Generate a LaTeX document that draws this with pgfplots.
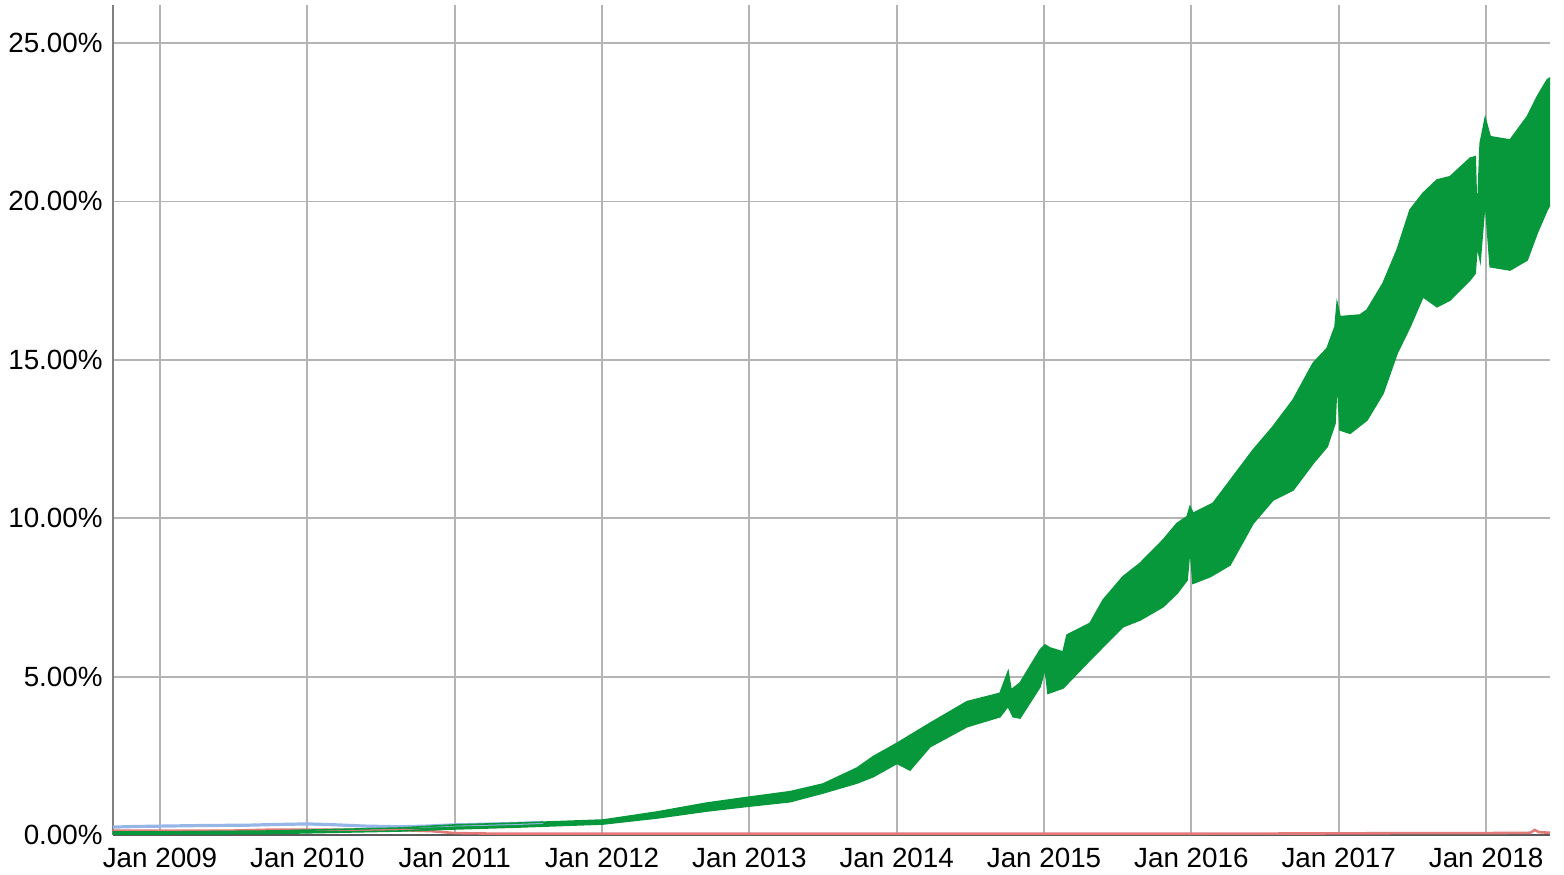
\documentclass[border=0pt]{standalone}
\usepackage{pgfplots}
\pgfplotsset{compat=1.18}
\usepgfplotslibrary{fillbetween}
\usepackage{fontspec}
\setmainfont{Liberation Sans}
\definecolor{gr}{RGB}{6,152,58}
\definecolor{bl}{RGB}{150,182,232}
\definecolor{rd}{RGB}{226,122,122}
\definecolor{gridc}{RGB}{180,180,180}
\begin{document}
\begin{tikzpicture}
\begin{axis}[
  scale only axis, width=718.5pt, height=415pt,
  xmin=2008.681, xmax=2018.434, ymin=0, ymax=26.2,
  axis x line=bottom, axis y line=left,
  x axis line style={-, draw=black!65, line width=1pt},
  y axis line style={-, draw=black!50, line width=1pt},
  xtick={2009,2010,2011,2012,2013,2014,2015,2016,2017,2018},
  xticklabels={Jan 2009,Jan 2010,Jan 2011,Jan 2012,Jan 2013,Jan 2014,Jan 2015,Jan 2016,Jan 2017,Jan 2018},
  ytick={0,5,10,15,20,25},
  yticklabels={0.00\%,5.00\%,10.00\%,15.00\%,20.00\%,25.00\%},
  major tick length=0pt,
  grid=major,
  major grid style={draw=gridc, line width=0.9pt},
  tick label style={font=\fontsize{13.9}{16}\selectfont, text=black},
  yticklabel style={inner sep=0pt, xshift=-5pt},
  xticklabel style={inner sep=0pt, yshift=-6.5pt},
]
% blue series (early period)
\addplot[bl, line width=1.6pt] coordinates {
(2008.681,0.25) (2008.85,0.27) (2009.0,0.28) (2009.3,0.30) (2009.6,0.31)
(2009.77,0.33) (2010.0,0.35) (2010.2,0.32) (2010.4,0.28) (2010.63,0.26)
(2010.8,0.28) (2011.0,0.32) (2011.2,0.34) (2011.44,0.37) (2011.6,0.40)
};
% red series
\addplot[rd, line width=1.3pt] coordinates {
(2008.681,0.14) (2009.0,0.14) (2009.5,0.14) (2009.77,0.17) (2010.2,0.17)
(2010.6,0.16) (2010.85,0.12) (2011.0,0.06) (2011.3,0.04) (2012.0,0.04)
(2013.0,0.04) (2014.0,0.04) (2015.0,0.04) (2016.0,0.04) (2017.0,0.05)
(2017.5,0.06) (2018.0,0.06) (2018.3,0.07) (2018.33,0.16) (2018.36,0.09)
(2018.434,0.07)
};
% green upper envelope
\addplot[name path=U, gr, line width=0.8pt] coordinates {
(2008.681,0.095) (2009.0,0.095) (2009.747,0.126) (2010.629,0.221) (2010.989,0.316)
(2011.444,0.379) (2012.007,0.473) (2012.373,0.726) (2012.713,1.010) (2013.005,1.199)
(2013.276,1.367) (2013.500,1.610) (2013.731,2.115) (2013.840,2.472) (2014.002,2.895)
(2014.226,3.526) (2014.477,4.208) (2014.701,4.473) (2014.735,4.893) (2014.756,5.155)
(2014.776,4.577) (2014.837,4.798) (2014.973,5.840) (2015.007,5.997) (2015.041,5.903)
(2015.129,5.777) (2015.156,6.313) (2015.312,6.682) (2015.401,7.418) (2015.536,8.154)
(2015.652,8.577) (2015.808,9.312) (2015.903,9.839) (2015.971,10.047) (2015.991,10.363)
(2016.011,10.155) (2016.147,10.470) (2016.283,11.310) (2016.419,12.153) (2016.554,12.888)
(2016.690,13.731) (2016.826,14.889) (2016.921,15.363) (2016.975,16.045) (2016.989,16.783)
(2017.009,16.361) (2017.145,16.414) (2017.192,16.572) (2017.301,17.415) (2017.396,18.466)
(2017.484,19.729) (2017.572,20.256) (2017.667,20.676) (2017.756,20.780) (2017.891,21.361)
(2017.926,21.411) (2017.939,19.255) (2017.960,21.834) (2017.994,22.623) (2018.028,22.042)
(2018.163,21.938) (2018.279,22.674) (2018.347,23.305) (2018.414,23.832) (2018.434,23.90)
};
% green lower envelope
\addplot[name path=L, gr, line width=0.8pt] coordinates {
(2008.681,0.032) (2009.0,0.032) (2009.747,0.047) (2010.629,0.126) (2010.989,0.189)
(2011.444,0.253) (2012.007,0.347) (2012.373,0.537) (2012.713,0.758) (2013.005,0.915)
(2013.276,1.051) (2013.500,1.326) (2013.731,1.641) (2013.840,1.840) (2014.002,2.263)
(2014.090,2.050) (2014.226,2.787) (2014.477,3.419) (2014.701,3.734) (2014.756,4.070)
(2014.790,3.734) (2014.837,3.693) (2014.973,4.681) (2015.007,5.270) (2015.027,4.473)
(2015.129,4.640) (2015.312,5.524) (2015.401,5.944) (2015.536,6.575) (2015.652,6.787)
(2015.808,7.206) (2015.903,7.630) (2015.971,8.049) (2015.991,9.100) (2016.011,7.945)
(2016.127,8.154) (2016.262,8.523) (2016.419,9.839) (2016.554,10.575) (2016.690,10.890)
(2016.826,11.733) (2016.921,12.257) (2016.975,12.996) (2016.989,14.467) (2017.009,12.784)
(2017.077,12.680) (2017.192,13.100) (2017.301,13.943) (2017.396,15.205) (2017.484,16.045)
(2017.572,16.992) (2017.667,16.676) (2017.756,16.888) (2017.891,17.519) (2017.926,17.731)
(2017.939,18.624) (2017.960,18.150) (2017.994,20.044) (2018.028,17.939) (2018.163,17.835)
(2018.279,18.150) (2018.347,19.003) (2018.414,19.729) (2018.434,19.89)
};
\addplot[gr] fill between[of=U and L];
\end{axis}
\path (current axis.south west) ++(-56.5pt,-19.5pt) coordinate (bbA);
\path (current axis.north east) ++(7pt,2.5pt) coordinate (bbB);
\path[use as bounding box] (bbA) rectangle (bbB);
\end{tikzpicture}
\end{document}
